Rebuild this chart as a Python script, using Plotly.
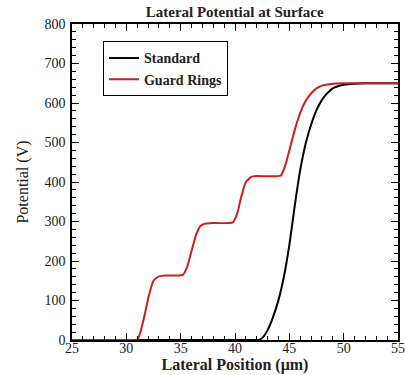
import plotly.graph_objects as go

std_x = [25, 41.8, 42.2, 42.6, 43.0, 43.5, 44.0, 44.5, 45.0, 45.5, 46.0, 46.5, 47.0, 47.5, 48.0, 48.5, 49.0, 50.0, 51.0, 52.0, 55.0]
std_v = [0, 0, 0, 8, 25, 58, 101, 160, 240, 340, 430, 497, 545, 582, 608, 625, 637, 646, 649, 650, 650]

gr_x = [25, 30.6, 31.0, 31.3, 31.7, 32.1, 32.5, 33.0, 33.5, 35.2, 35.6, 36.0, 36.4, 36.8, 37.3, 37.8, 39.8, 40.2, 40.6, 41.0, 41.5, 42.0, 44.2, 44.6, 45.0, 45.5, 46.0, 46.5, 47.0, 47.5, 48.0, 49.0, 50.0, 55.0]
gr_v = [0, 0, 0, 20, 65, 115, 150, 161, 163, 165, 185, 225, 265, 288, 295, 296, 298, 320, 365, 400, 413, 415, 416, 440, 480, 532, 575, 605, 624, 637, 644, 649, 650, 650]

x_ticks = [25, 30, 35, 40, 45, 50, 55]
y_ticks = [0, 100, 200, 300, 400, 500, 600, 700, 800]

serif = "Liberation Serif, Times New Roman, serif"
ink = "#222"

fig = go.Figure()
fig.add_trace(go.Scatter(x=std_x, y=std_v, mode="lines", name="<b>Standard</b>",
                         line=dict(color="black", width=2, shape="spline", smoothing=0.5)))
fig.add_trace(go.Scatter(x=gr_x, y=gr_v, mode="lines", name="<b>Guard Rings</b>",
                         line=dict(color="#cc1f1f", width=2, shape="spline", smoothing=0.5)))

axis_common = dict(showline=True, linecolor="black", linewidth=1.5, mirror="allticks",
                   ticks="inside", ticklen=7, tickwidth=1, tickcolor="black",
                   showgrid=False, zeroline=False, automargin=False,
                   tickfont=dict(family=serif, size=14, color=ink))

fig.update_xaxes(range=[25, 55], tickvals=x_ticks, ticktext=[str(t) for t in x_ticks],
                 minor=dict(ticks="inside", ticklen=4, dtick=1, tickcolor="black", showgrid=False),
                 ticklabelstandoff=-6,
                 title=dict(text="<b>Lateral Position (μm)</b>", font=dict(family=serif, size=16, color=ink), standoff=0),
                 **axis_common)
fig.update_yaxes(range=[0, 800], tickvals=y_ticks, ticktext=[str(t) for t in y_ticks],
                 minor=dict(ticks="inside", ticklen=4, dtick=20, tickcolor="black", showgrid=False),
                 ticklabelstandoff=2,
                 title=dict(text="Potential (V)", font=dict(family=serif, size=16, color=ink), standoff=12),
                 **axis_common)

fig.update_layout(
    width=406, height=375,
    margin=dict(l=72, r=8, t=24, b=35),
    paper_bgcolor="white", plot_bgcolor="white",
    title=dict(text="<b>Lateral Potential at Surface</b>", x=0.578, xanchor="center", y=0.968, yanchor="middle",
               font=dict(family=serif, size=15, color=ink)),
    legend=dict(x=0.095, y=0.945, xanchor="left", yanchor="top",
                bordercolor="black", borderwidth=1, bgcolor="white",
                font=dict(family=serif, size=14, color=ink),
                tracegroupgap=0, itemwidth=30),
    showlegend=True,
)

fig.write_html("out.html", config={"displayModeBar": False},
               post_script="document.body.style.margin='0';")
